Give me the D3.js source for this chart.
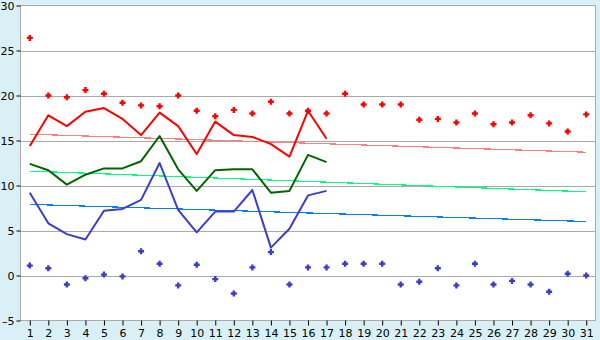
<!DOCTYPE html>
<html>
<head>
<meta charset="utf-8">
<script src="https://cdn.jsdelivr.net/npm/d3@7"></script>
<style>
  html, body { margin: 0; padding: 0; background: #d9f0f6; }
  svg { display: block; font-family: "DejaVu Sans", Verdana, sans-serif; }
</style>
</head>
<body>
<div id="chart"></div>
<script>
// days of the month
const days = d3.range(1, 32);

// daily extremes (dots) for the whole month
const maxDots = [26.4, 20.0, 19.8, 20.6, 20.2, 19.2, 18.9, 18.8, 20.0, 18.3,
                 17.7, 18.4, 18.0, 19.3, 18.0, 18.3, 18.0, 20.2, 19.0, 19.0,
                 19.0, 17.3, 17.4, 17.0, 18.0, 16.8, 17.0, 17.8, 16.9, 16.0, 17.9];
const minDots = [1.1, 0.8, -1.0, -0.3, 0.1, -0.1, 2.7, 1.3, -1.1, 1.2,
                 -0.4, -2.0, 0.9, 2.6, -1.0, 0.9, 0.9, 1.3, 1.3, 1.3,
                 -1.0, -0.7, 0.8, -1.1, 1.3, -1.0, -0.6, -1.0, -1.8, 0.2, 0.0];

// measured values, days 1-17
const maxLine = [14.4, 17.8, 16.6, 18.2, 18.6, 17.4, 15.6, 18.1, 16.6, 13.5,
                 17.1, 15.6, 15.4, 14.6, 13.2, 18.3, 15.2];
const meanLine = [12.4, 11.7, 10.1, 11.2, 11.9, 11.9, 12.7, 15.5, 11.8, 9.4,
                  11.7, 11.8, 11.8, 9.2, 9.4, 13.4, 12.6];
const minLine = [9.2, 5.8, 4.6, 4.0, 7.2, 7.4, 8.4, 12.5, 7.3, 4.8,
                 7.1, 7.1, 9.5, 3.1, 5.2, 8.9, 9.4];

// trend (normal) lines: value on day 1 and on day 31
const maxTrend = [15.7, 13.7];
const meanTrend = [11.6, 9.3];
const minTrend = [7.9, 6.0];

const yTicks = [-5, 0, 5, 10, 15, 20, 25, 30];

const width = 600, height = 340;
const mLeft = 20.5, mRight = 595.5, mTop = 5.5, mBottom = 320.5;

const svg = d3.select("#chart").append("svg")
    .attr("width", width)
    .attr("height", height);

const x = d3.scalePoint().domain(days).range([mLeft, mRight]).padding(0.5);
const y = d3.scaleLinear().domain([-5, 30]).range([mBottom, mTop]);

// plot area
svg.append("rect")
    .attr("x", mLeft).attr("y", mTop)
    .attr("width", mRight - mLeft).attr("height", mBottom - mTop)
    .attr("fill", "#fff")
    .attr("stroke", "#aaa");

// gridlines
svg.append("g")
    .selectAll("line")
    .data(yTicks.slice(1, -1))
    .join("line")
    .attr("x1", mLeft).attr("x2", mRight)
    .attr("y1", d => Math.round(y(d)) + 0.5).attr("y2", d => Math.round(y(d)) + 0.5)
    .attr("stroke", "#aaa");

// axes
const yAxis = svg.append("g")
    .attr("transform", `translate(${mLeft},0)`)
    .call(d3.axisLeft(y).tickValues(yTicks).tickSize(4).tickPadding(2));
const xAxis = svg.append("g")
    .attr("transform", `translate(0,${mBottom})`)
    .call(d3.axisBottom(x).tickSize(5).tickPadding(4));

[yAxis, xAxis].forEach(g => {
    g.select(".domain").remove();
    g.selectAll(".tick line").attr("stroke", "#000");
    g.selectAll("text").attr("font-size", 11).attr("fill", "#000")
        .attr("font-family", "DejaVu Sans, Verdana, sans-serif");
});
yAxis.selectAll("text").text(d => d < 0 ? "\u2013" + Math.abs(d) : d);

// trend lines
const trends = [
    {v: maxTrend, color: "#ff7f7f"},
    {v: meanTrend, color: "#00ff80"},
    {v: minTrend, color: "#0080ff"}
];
svg.append("g")
    .selectAll("line")
    .data(trends)
    .join("line")
    .attr("x1", x(1)).attr("x2", x(31))
    .attr("y1", d => y(d.v[0])).attr("y2", d => y(d.v[1]))
    .attr("stroke", d => d.color)
    .attr("stroke-width", 1.2)
    .attr("shape-rendering", "crispEdges");

// measured lines
const line = d3.line()
    .x((d, i) => x(days[i]))
    .y(d => y(d));
const series = [
    {v: maxLine, color: "#ff0000"},
    {v: meanLine, color: "#006400"},
    {v: minLine, color: "#3c3ccc"}
];
svg.append("g")
    .selectAll("path")
    .data(series)
    .join("path")
    .attr("d", d => line(d.v))
    .attr("fill", "none")
    .attr("stroke", d => d.color)
    .attr("stroke-width", 2)
    .attr("stroke-linejoin", "round");

// dots: a small fat plus
const fatPlus = {
    draw(ctx) {
        const a = 3, b = 1.2;
        ctx.moveTo(-b, -a); ctx.lineTo(b, -a); ctx.lineTo(b, -b);
        ctx.lineTo(a, -b); ctx.lineTo(a, b); ctx.lineTo(b, b);
        ctx.lineTo(b, a); ctx.lineTo(-b, a); ctx.lineTo(-b, b);
        ctx.lineTo(-a, b); ctx.lineTo(-a, -b); ctx.lineTo(-b, -b);
        ctx.closePath();
    }
};
const marker = d3.symbol().type(fatPlus);
const dots = [
    {v: maxDots, color: "#ff0000"},
    {v: minDots, color: "#3c3ccc"}
];
dots.forEach(s => {
    svg.append("g")
        .selectAll("path")
        .data(s.v)
        .join("path")
        .attr("transform", (d, i) => `translate(${x(days[i])},${y(d)})`)
        .attr("d", marker)
        .attr("fill", s.color);
});
</script>
</body>
</html>
